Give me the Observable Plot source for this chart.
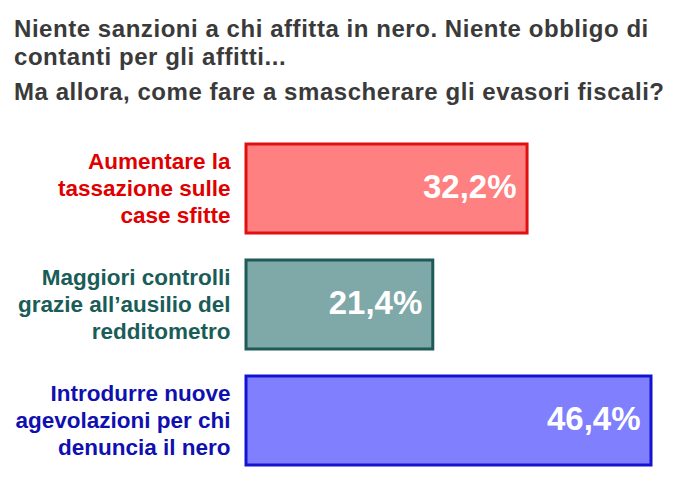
<!DOCTYPE html>
<html>
<head>
<meta charset="utf-8">
<script src="https://cdn.jsdelivr.net/npm/d3@7"></script>
<script src="https://cdn.jsdelivr.net/npm/@observablehq/plot@0.6"></script>
<style>
  html, body { margin: 0; padding: 0; background: #fff; }
  body { width: 680px; height: 494px; overflow: hidden; font-family: "Liberation Sans", Arial, sans-serif; }
  #title { height: 125px; box-sizing: border-box; padding: 15px 0 0 14px; color: #3a3a3a; font-size: 24px; font-weight: bold; letter-spacing: 0.55px; }
  #title .l { line-height: 28px; white-space: nowrap; }
  #title .l3 { margin-top: 7px; }
</style>
</head>
<body>
<div id="title">
  <div class="l">Niente sanzioni a chi affitta in nero. Niente obbligo di</div>
  <div class="l">contanti per gli affitti...</div>
  <div class="l l3">Ma allora, come fare a smascherare gli evasori fiscali?</div>
</div>
<div id="chart"></div>
<script>
const categories = [
  "Aumentare la\ntassazione sulle\ncase sfitte",
  "Maggiori controlli\ngrazie all’ausilio del\nredditometro",
  "Introdurre nuove\nagevolazioni per chi\ndenuncia il nero"
];
const values = [32.2, 21.4, 46.4];
const valueLabels = ["32,2%", "21,4%", "46,4%"];
const fills = ["#ff8080", "#7fa8a8", "#8080ff"];
const strokes = ["#e01010", "#1d5a58", "#1414d0"];
const labelColors = ["#e00000", "#1a5c58", "#1010b0"];

const data = categories.map((c, i) => ({
  cat: c, value: values[i], label: valueLabels[i],
  fill: fills[i], stroke: strokes[i], lc: labelColors[i]
}));

const chart = Plot.plot({
  width: 680,
  height: 369,
  marginTop: 0, marginBottom: 0, marginLeft: 0, marginRight: 0,
  x: { domain: [0, 46.4], range: [246, 651], axis: null },
  y: { domain: categories, range: [18, 341], paddingInner: 0.23, paddingOuter: 0, axis: null },
  marks: [
    Plot.barX(data, {
      x: "value", y: "cat", fill: d => d.fill, stroke: d => d.stroke,
      strokeWidth: 3, inset: 0
    }),
    Plot.text(data, {
      x: 0, y: "cat", text: "cat", textAnchor: "end", dx: -16, dy: -2,
      fill: d => d.lc, fontSize: 22.5, fontWeight: "bold", lineHeight: 1.2,
      fontFamily: "Liberation Sans, Arial, sans-serif"
    }),
    Plot.text(data, {
      x: "value", y: "cat", text: "label", textAnchor: "end", dx: -11, dy: -2,
      fill: "white", fontSize: 33, fontWeight: "bold",
      fontFamily: "Liberation Sans, Arial, sans-serif"
    })
  ]
});
document.getElementById("chart").appendChild(chart);
</script>
</body>
</html>
